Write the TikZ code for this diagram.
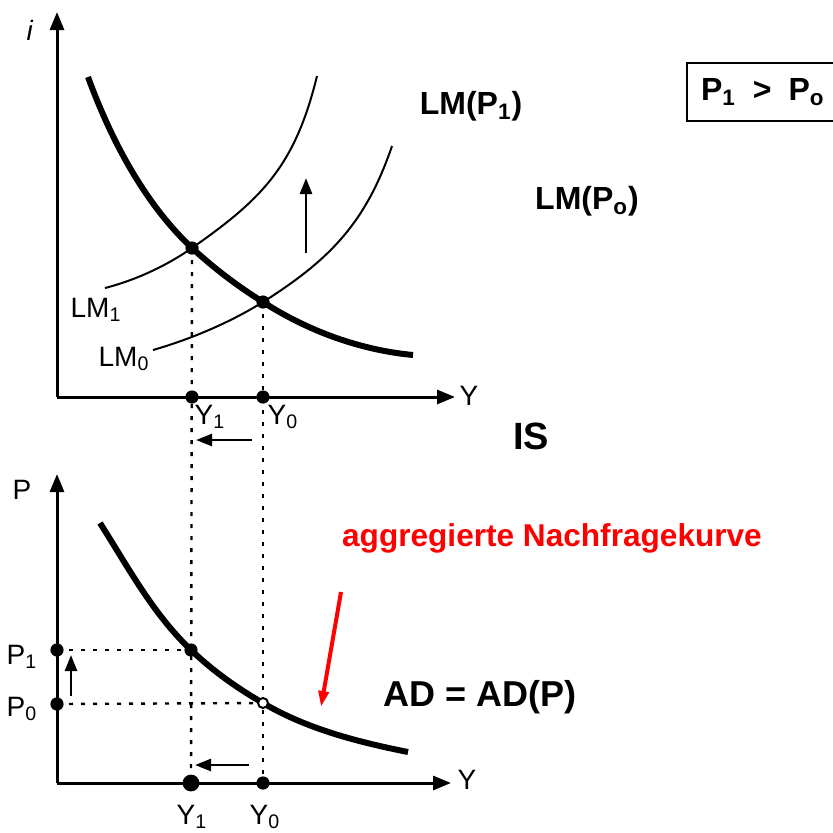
\documentclass[tikz,border=0pt]{standalone}
\usepackage{fontspec}
\setmainfont{Liberation Sans}
\usetikzlibrary{arrows.meta}

\begin{document}
\begin{tikzpicture}[x=0.5pt, y=-0.5pt]
    % Rahmen des Bildes
    \useasboundingbox (0,0) rectangle (833,832);

    % Stile
    \tikzset{
        c_axis/.style={line width=1.5pt, -{Triangle[length=9pt, width=7pt]}},
        c_is/.style={line width=3pt},
        c_lm/.style={line width=1pt},
        c_guide/.style={line width=1.2pt, dash pattern=on 2pt off 4pt},
        c_shift/.style={line width=1.3pt, -{Triangle[length=8pt, width=6pt]}},
        c_red/.style={red, line width=2pt, -{Triangle[length=8pt, width=5pt]}},
        c_hand/.style={font=\fontsize{14}{16}\selectfont},
        c_text/.style={font=\fontsize{16}{19}\selectfont\bfseries}
    }

    % Koordinaten oben (IS-LM)
    \coordinate (O1) at (57,397);
    \coordinate (i_end) at (57,12);
    \coordinate (Yu_end) at (455,397);
    \coordinate (E1) at (192,248);
    \coordinate (E0) at (263,302);
    \coordinate (Y1u) at (192,397);
    \coordinate (Y0u) at (263,397);

    % Koordinaten unten (AD)
    \coordinate (O2) at (57,783);
    \coordinate (p_end) at (57,474);
    \coordinate (Yd_end) at (451,783);
    \coordinate (F1) at (191,650);
    \coordinate (F0) at (263,703);
    \coordinate (P1) at (57,650);
    \coordinate (P0) at (57,704);
    \coordinate (Y1d) at (191,783);
    \coordinate (Y0d) at (263,783);

    % Pfeile fuer die Verschiebungen
    \coordinate (up_s) at (306,253);
    \coordinate (up_e) at (306,178);
    \coordinate (lu_s) at (252,440);
    \coordinate (lu_e) at (196,440);
    \coordinate (ld_s) at (249,765);
    \coordinate (ld_e) at (195,765);
    \coordinate (pu_s) at (71,696);
    \coordinate (pu_e) at (71,655);
    \coordinate (red_s) at (341,592);
    \coordinate (red_e) at (321,707);

    % Achsen
    \draw[c_axis] (O1) -- (i_end);
    \draw[c_axis] (O1) -- (Yu_end);
    \draw[c_axis] (O2) -- (p_end);
    \draw[c_axis] (O2) -- (Yd_end);

    % Hilfslinien (gepunktet)
    \draw[c_guide] (E1) -- (Y1d);
    \draw[c_guide] (E0) -- (Y0d);
    \draw[c_guide] (P1) -- (F1);
    \draw[c_guide] (P0) -- (F0);

    % Kurven LM1, LM0, IS und AD
    \draw[c_lm] (105,288) .. controls (136,280) and (166,266) .. (E1)
                          .. controls (262,199) and (295,166) .. (317,76);
    \draw[c_lm] (153,350) .. controls (191,339) and (229,323) .. (E0)
                          .. controls (331,259) and (366,222) .. (392,146);
    \draw[c_is] (88,77) .. controls (110,137) and (143,202) .. (E1)
                        .. controls (216,270) and (239,287) .. (E0)
                        .. controls (308,331) and (360,350) .. (413,355);
    \draw[c_is] (100,523) .. controls (128,567) and (153,614) .. (F1)
                          .. controls (213,671) and (237,688) .. (F0)
                          .. controls (307,729) and (358,742) .. (408,752);

    % Verschiebungspfeile
    \draw[c_shift] (up_s) -- (up_e);
    \draw[c_shift] (lu_s) -- (lu_e);
    \draw[c_shift] (ld_s) -- (ld_e);
    \draw[c_shift] (pu_s) -- (pu_e);
    \draw[c_red] (red_s) -- (red_e);

    % Punkte
    \foreach \p in {E1,E0,Y1u,Y0u,F1,P1,P0,Y0d} {
        \fill (\p) circle (3.3pt);
    }
    \fill (Y1d) circle (4.2pt);
    \filldraw[fill=white, line width=1pt] (F0) circle (2.5pt);

    % Handschriftliche Beschriftungen
    \node[c_hand] (lab_i) at (30,30) {\textit{i}};
    \node[c_hand] (lab_Yu) at (469,396) {Y};
    \node[c_hand] (lab_Y1u) at (210,417) {Y\textsubscript{1}};
    \node[c_hand] (lab_Y0u) at (283,417) {Y\textsubscript{0}};
    \node[c_hand] (lab_LM1) at (96,310) {LM\textsubscript{1}};
    \node[c_hand] (lab_LM0) at (124,359) {LM\textsubscript{0}};
    \node[c_hand] (lab_P) at (22,490) {P};
    \node[c_hand] (lab_P1) at (22,657) {P\textsubscript{1}};
    \node[c_hand] (lab_P0) at (22,709) {P\textsubscript{0}};
    \node[c_hand] (lab_Yd) at (467,780) {Y};
    \node[c_hand] (lab_Y1d) at (192,817) {Y\textsubscript{1}};
    \node[c_hand] (lab_Y0d) at (265,817) {Y\textsubscript{0}};

    % Gedruckte Beschriftungen
    \node[c_text] (lab_LMP1) at (471,106) {LM(P\textsubscript{1})};
    \node[c_text] (lab_LMP0) at (587,201) {LM(P\textsubscript{o})};
    \node[c_text, font=\fontsize{19}{22}\selectfont\bfseries] (lab_IS) at (531,436) {IS};
    \node[c_text, red, font=\fontsize{15.8}{18}\selectfont\bfseries] (lab_agg) at (552,538) {aggregierte Nachfragekurve};
    \node[c_text, font=\fontsize{18}{21}\selectfont\bfseries] (lab_AD) at (480,697) {AD = AD(P)};
    \node[c_text, draw, line width=1pt, anchor=west, minimum height=29pt,
          inner xsep=7pt, text width=75pt] (cmp) at (686,92)
          {P\textsubscript{1}~\hspace{3.2pt}>~\hspace{3.2pt}P\textsubscript{o}};
\end{tikzpicture}
\end{document}
